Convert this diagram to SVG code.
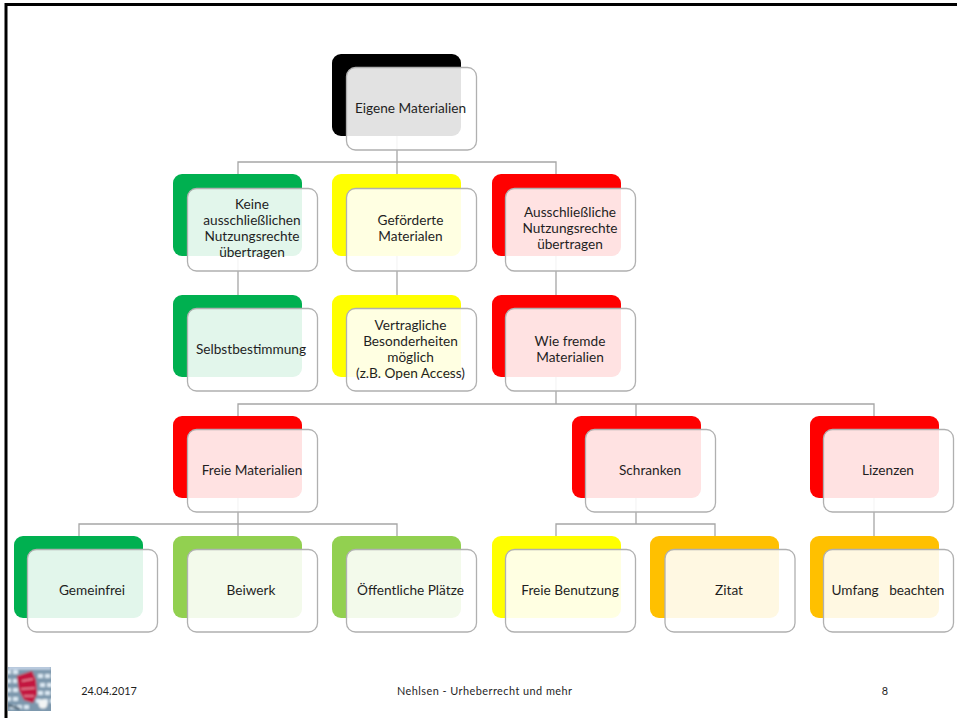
<svg xmlns="http://www.w3.org/2000/svg" width="957" height="718" viewBox="0 0 957 718">
<style>
text{font-family:"Lato","Liberation Sans",sans-serif;font-size:13.65px;fill:#1f1f1f;text-anchor:middle}
.f{font-size:10.9px}
.b{stroke:none}
.c{fill:#fff;fill-opacity:.885;stroke:#b0b0b0;stroke-width:1.3}
#connectors path{fill:none;stroke:#a6a6a6;stroke-width:1.3}
</style>
<defs>
<rect id="back" class="b" width="129" height="82" rx="9"/>
<rect id="card" class="c" width="130" height="82.500" rx="9"/>
<filter id="soft" x="-10%" y="-10%" width="120%" height="120%"><feGaussianBlur stdDeviation="0.9"/></filter>
<clipPath id="logoclip"><rect x="8" y="667" width="43" height="44"/></clipPath>
</defs>
<rect width="957" height="718" fill="#fff"/>
<path d="M6 718V4.500H957" fill="none" stroke="#000" stroke-width="3"/>
<g id="connectors">
<path d="M397 136V174M238 174V162H556V174"/>
<path d="M238 256V295M397 256V295M556 256V295"/>
<path d="M556 377V404M238 416V404H874V416M636 404V416"/>
<path d="M238 498V536M79 536V524H397V536"/>
<path d="M636 498V524M556 536V524H715V536"/>
<path d="M874 498V536"/>
</g>
<g id="n1"><use href="#back" x="332" y="54" fill="#000"/><use href="#card" x="346.500" y="67.500"/><text x="410.500" y="113">Eigene Materialien</text></g>
<g id="n2"><use href="#back" x="173" y="174" fill="#00b050"/><use href="#card" x="187.500" y="188.500"/><text x="252" y="209">Keine</text><text x="252" y="225">ausschließlichen</text><text x="252" y="241">Nutzungsrechte</text><text x="252" y="257">übertragen</text></g>
<g id="n3"><use href="#back" x="332" y="174" fill="#ff0"/><use href="#card" x="346.500" y="188.500"/><text x="410.500" y="225">Geförderte</text><text x="410.500" y="241">Materialen</text></g>
<g id="n4"><use href="#back" x="492" y="174" fill="#f00"/><use href="#card" x="505.500" y="188.500"/><text x="570" y="217">Ausschließliche</text><text x="570" y="233">Nutzungsrechte</text><text x="570" y="249">übertragen</text></g>
<g id="n5"><use href="#back" x="173" y="295" fill="#00b050"/><use href="#card" x="187.500" y="308.500"/><text x="251" y="354">Selbstbestimmung</text></g>
<g id="n6"><use href="#back" x="332" y="295" fill="#ff0"/><use href="#card" x="346.500" y="308.500"/><text x="410.500" y="330">Vertragliche</text><text x="410.500" y="346">Besonderheiten</text><text x="410.500" y="362">möglich</text><text x="410.500" y="378">(z.B. Open Access)</text></g>
<g id="n7"><use href="#back" x="492" y="295" fill="#f00"/><use href="#card" x="505.500" y="308.500"/><text x="570" y="346">Wie fremde</text><text x="570" y="362">Materialien</text></g>
<g id="n8"><use href="#back" x="173" y="416" fill="#f00"/><use href="#card" x="187.500" y="429.500"/><text x="252" y="475">Freie Materialien</text></g>
<g id="n9"><use href="#back" x="572" y="416" fill="#f00"/><use href="#card" x="585.500" y="429.500"/><text x="650" y="475">Schranken</text></g>
<g id="n10"><use href="#back" x="810" y="416" fill="#f00"/><use href="#card" x="823.500" y="429.500"/><text x="888" y="475">Lizenzen</text></g>
<g id="n11"><use href="#back" x="14" y="536" fill="#00b050"/><use href="#card" x="27.500" y="549.500"/><text x="92" y="595">Gemeinfrei</text></g>
<g id="n12"><use href="#back" x="173" y="536" fill="#92d050"/><use href="#card" x="187.500" y="549.500"/><text x="251" y="595">Beiwerk</text></g>
<g id="n13"><use href="#back" x="332" y="536" fill="#92d050"/><use href="#card" x="346.500" y="549.500"/><text x="410.500" y="595">Öffentliche Plätze</text></g>
<g id="n14"><use href="#back" x="492" y="536" fill="#ff0"/><use href="#card" x="505.500" y="549.500"/><text x="570" y="595">Freie Benutzung</text></g>
<g id="n15"><use href="#back" x="650" y="536" fill="#ffc000"/><use href="#card" x="665" y="549.500"/><text x="729" y="595">Zitat</text></g>
<g id="n16"><use href="#back" x="810" y="536" fill="#ffc000"/><use href="#card" x="823.500" y="549.500"/><text x="888" y="595" xml:space="preserve">Umfang   beachten</text></g>
<g id="logo" clip-path="url(#logoclip)">
<g filter="url(#soft)">
<rect x="6" y="665" width="47" height="48" fill="#7d98ad"/>
<path d="M6 672H18M38 676H53M6 681H17M40 685H53M6 690H18M38 693H53M6 699H20M36 701H53M10 707H30" stroke="#dbe9f3" stroke-width="4" stroke-dasharray="5 2"/>
<path d="M8 668H51" stroke="#c9d8ec" stroke-width="3"/>
<path d="M17 676L32 671L36 680L37 694L33 703L24 700L19 690Z" fill="#c3183f"/>
<path d="M22 681L33 679M21 689L35 688M24 696L34 696" stroke="#e8899f" stroke-width="1.600"/>
<path d="M8 705L20 709" stroke="#42586a" stroke-width="2"/>
<circle cx="43" cy="704" r="4.500" fill="#f2f4f4"/>
</g>
</g>
<g id="footer">
<text class="f" x="109" y="695">24.04.2017</text>
<text class="f" x="484.500" y="695" textLength="175" lengthAdjust="spacing">Nehlsen - Urheberrecht und mehr</text>
<text class="f" x="885" y="695">8</text>
</g>
</svg>
